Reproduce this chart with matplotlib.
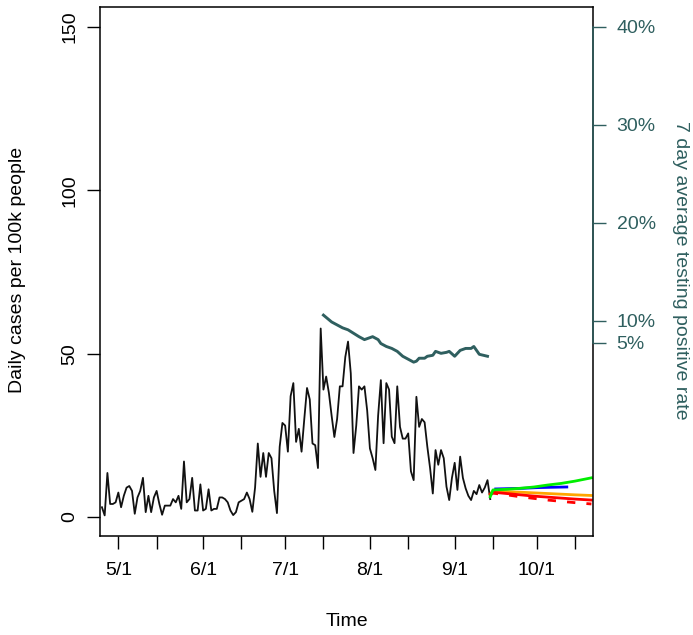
import numpy as np
import matplotlib
matplotlib.use("Agg")
import matplotlib.pyplot as plt
import matplotlib.transforms as mtransforms

plt.rcParams['font.family'] = ['Liberation Sans', 'DejaVu Sans']

# Daily cases per 100k, one value per day from 4/25 to 9/14
case_start = np.datetime64('2020-04-25')
cases = [3, 0.5, 13.5, 4, 4, 4.5, 7.5, 3, 6.5, 9,
         9.5, 8, 1, 6, 8, 12, 1.5, 6.5, 1.5, 6,
         8, 4, 0.7, 3.5, 3.5, 3.5, 5.5, 4.5, 6.5, 2.5,
         17, 4.5, 5.5, 12, 2, 2, 10, 2, 2.5, 8.5,
         2, 2.5, 2.5, 6, 6, 5.5, 4.5, 2, 0.6, 1.5,
         4.5, 5, 5.5, 7.5, 5.5, 1.6, 9, 22.5, 12.3, 19.6,
         12.3, 19.6, 18, 8, 1.2, 21.5, 28.8, 28, 20, 37,
         41, 23, 27, 20, 30, 39.5, 36, 22.5, 22, 15,
         57.7, 39, 43, 38, 31, 24.5, 30, 40, 40, 49,
         53.7, 44, 19.6, 28, 40, 39, 40, 32.6, 21, 18,
         14.4, 31, 41.9, 22.6, 41, 39, 24.6, 22.6, 40, 27.6,
         24, 24, 25.6, 14, 11.3, 36.8, 27.6, 30, 29, 21.5,
         15, 7.2, 20.5, 16, 20.5, 18, 9.3, 5.2, 12, 16.6,
         8.3, 18.5, 12, 8.8, 6.5, 5.2, 8, 7, 9.8, 7.5,
         9, 11.3, 5.5]
case_dates = case_start + np.arange(len(cases))

# 7 day average testing positive rate
pos_dates = np.array(['2020-07-15', '2020-07-18', '2020-07-22', '2020-07-24',
                      '2020-07-28', '2020-07-30', '2020-08-01', '2020-08-02',
                      '2020-08-04', '2020-08-05', '2020-08-07', '2020-08-09',
                      '2020-08-11', '2020-08-13', '2020-08-15', '2020-08-17',
                      '2020-08-18', '2020-08-19', '2020-08-21', '2020-08-22',
                      '2020-08-24', '2020-08-25', '2020-08-27', '2020-08-29',
                      '2020-08-30', '2020-09-01', '2020-09-03', '2020-09-05',
                      '2020-09-07', '2020-09-08', '2020-09-09', '2020-09-10',
                      '2020-09-13'], dtype='datetime64[D]')
pos_rate = [0.106, 0.099, 0.093, 0.091, 0.084, 0.081, 0.083, 0.084,
            0.081, 0.077, 0.074, 0.072, 0.069, 0.064, 0.061, 0.058,
            0.059, 0.062, 0.062, 0.064, 0.065, 0.069, 0.067, 0.068,
            0.069, 0.064, 0.070, 0.072, 0.072, 0.074, 0.070, 0.066,
            0.064]

# Forecasts
fc_dates = np.array(['2020-09-14', '2020-09-15', '2020-09-20', '2020-09-25',
                     '2020-09-30', '2020-10-05', '2020-10-10', '2020-10-15',
                     '2020-10-21'], dtype='datetime64[D]')
fc_green = [6.2, 8.3, 8.5, 8.8, 9.2, 9.8, 10.3, 11.0, 12.0]
fc_orange = [7.0, 8.0, 7.8, 7.6, 7.4, 7.2, 7.0, 6.8, 6.6]
fc_red = [7.0, 7.6, 7.2, 6.8, 6.4, 6.1, 5.8, 5.5, 5.2]
fc_red_dash = [6.8, 7.3, 6.8, 6.2, 5.7, 5.2, 4.8, 4.4, 4.0]
blue_dates = np.array(['2020-09-16', '2020-09-21', '2020-09-26', '2020-10-01',
                       '2020-10-06', '2020-10-12'], dtype='datetime64[D]')
fc_blue = [8.6, 8.7, 8.8, 9.0, 9.1, 9.2]

month_ticks = np.array(['2020-05-01', '2020-06-01', '2020-07-01', '2020-08-01',
                        '2020-09-01', '2020-10-01'], dtype='datetime64[D]')
month_labels = ['5/1', '6/1', '7/1', '8/1', '9/1', '10/1']
mid_ticks = np.array(['2020-05-15', '2020-06-15', '2020-07-15', '2020-08-15',
                      '2020-09-15', '2020-10-15'], dtype='datetime64[D]')
rate_ticks = [0.0776, 0.1, 0.2, 0.3, 0.4]
rate_labels = ['5%', '10%', '20%', '30%', '40%']

teal = '#2F5F5F'
fs = 14

fig = plt.figure(figsize=(6.93, 6.35), dpi=100)
ax = fig.add_axes([100/693, 99/635, 493/693, 529/635])

ax.plot(case_dates, cases, color='#111111', lw=1.3)
ax.plot(fc_dates, fc_orange, color='orange', lw=2)
ax.plot(fc_dates, fc_red, color='red', lw=2)
ax.plot(fc_dates, fc_red_dash, color='red', lw=2, ls=(0, (3, 4)))
ax.plot(blue_dates, fc_blue, color='blue', lw=2)
ax.plot(fc_dates, fc_green, color='#00EE00', lw=2)

ax.set_xlim(np.datetime64('2020-04-24T07'), np.datetime64('2020-10-21T14'))
ax.set_ylim(-5.8, 156.1)
ax.set_yticks([0, 50, 100, 150])
ax.set_yticklabels(['0', '50', '100', '150'], rotation=90, va='center', fontsize=fs)
ax.set_xticks(month_ticks)
ax.set_xticklabels(month_labels, fontsize=fs)
ax.set_xticks(mid_ticks, minor=True)
ax.tick_params(axis='x', which='both', length=9.5, width=1, pad=9.5)
ax.tick_params(axis='y', length=9.5, width=1, pad=6)
for s in ax.spines.values():
    s.set_linewidth(1.1)

# Right axis for positive rate
ax2 = ax.twinx()
ax2.plot(pos_dates, pos_rate, color=teal, lw=2.1)
ax2.set_ylim(-0.1194, 0.4204)
ax2.set_yticks(rate_ticks)
ax2.set_yticklabels(rate_labels, fontsize=fs, color=teal)
ax2.tick_params(axis='y', length=9.5, width=1, pad=7.5, color=teal)
for s in ax2.spines.values():
    s.set_visible(False)
trans = mtransforms.blended_transform_factory(ax2.transAxes, ax2.transData)
ax2.plot([1, 1], [rate_ticks[0], rate_ticks[-1]], color=teal, lw=1.1,
         transform=trans, clip_on=False)

fig.text(18/693, 1 - 270/635, 'Daily cases per 100k people', rotation=90,
         ha='center', va='center', fontsize=fs)
fig.text(347/693, 1 - 622/635, 'Time', ha='center', va='center', fontsize=fs)
fig.text(680/693, 1 - 270/635, '7 day average testing positive rate',
         rotation=-90, ha='center', va='center', fontsize=fs, color=teal)

fig.savefig('out.png', dpi=100)
